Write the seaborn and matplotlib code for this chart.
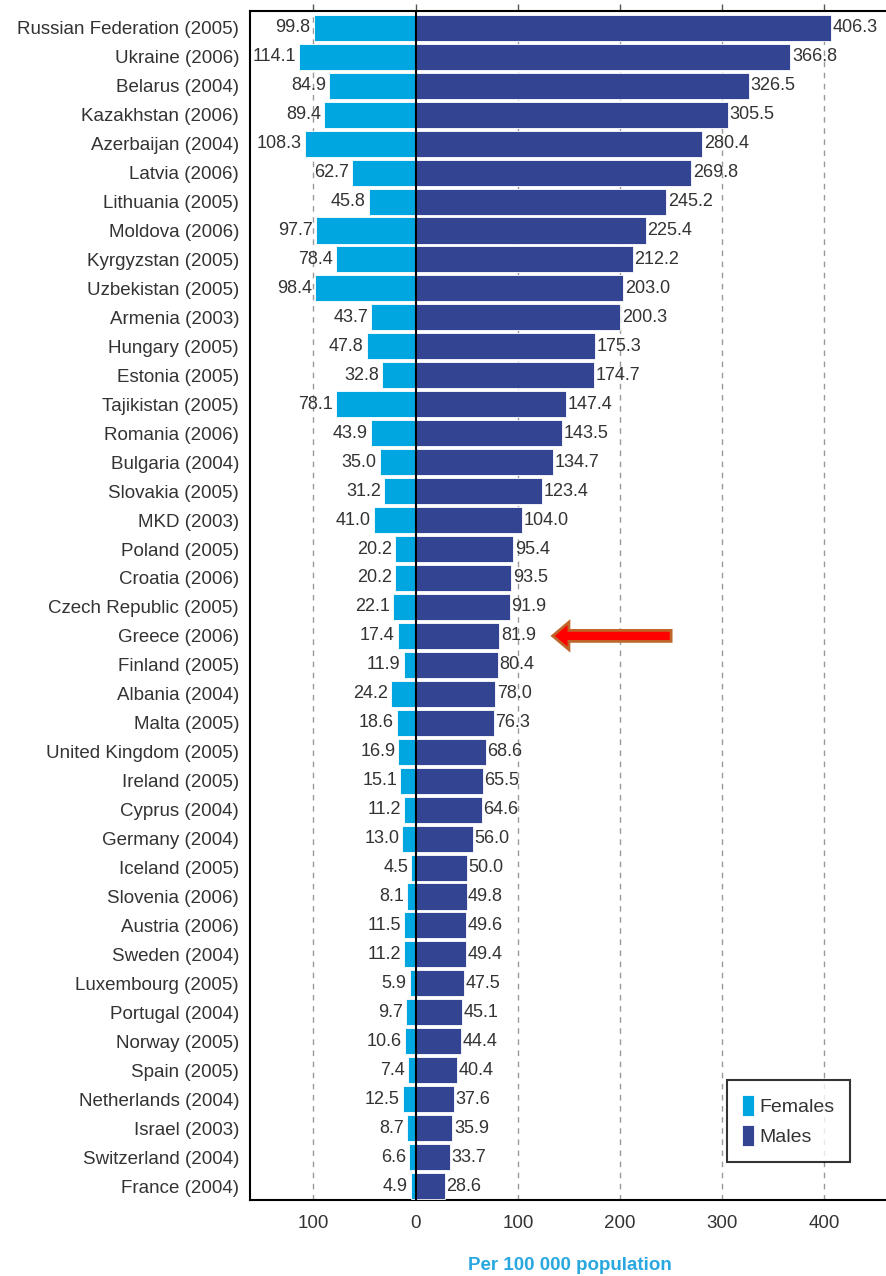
import numpy as np
import pandas as pd
import matplotlib
matplotlib.use('Agg')
import matplotlib.pyplot as plt
import seaborn as sb
from matplotlib.patches import FancyArrow

countries = ['Russian Federation (2005)', 'Ukraine (2006)', 'Belarus (2004)', 'Kazakhstan (2006)',
             'Azerbaijan (2004)', 'Latvia (2006)', 'Lithuania (2005)', 'Moldova (2006)',
             'Kyrgyzstan (2005)', 'Uzbekistan (2005)', 'Armenia (2003)', 'Hungary (2005)',
             'Estonia (2005)', 'Tajikistan (2005)', 'Romania (2006)', 'Bulgaria (2004)',
             'Slovakia (2005)', 'MKD (2003)', 'Poland (2005)', 'Croatia (2006)',
             'Czech Republic (2005)', 'Greece (2006)', 'Finland (2005)', 'Albania (2004)',
             'Malta (2005)', 'United Kingdom (2005)', 'Ireland (2005)', 'Cyprus (2004)',
             'Germany (2004)', 'Iceland (2005)', 'Slovenia (2006)', 'Austria (2006)',
             'Sweden (2004)', 'Luxembourg (2005)', 'Portugal (2004)', 'Norway (2005)',
             'Spain (2005)', 'Netherlands (2004)', 'Israel (2003)', 'Switzerland (2004)',
             'France (2004)']
females = [99.8, 114.1, 84.9, 89.4, 108.3, 62.7, 45.8, 97.7, 78.4, 98.4, 43.7, 47.8, 32.8, 78.1,
           43.9, 35.0, 31.2, 41.0, 20.2, 20.2, 22.1, 17.4, 11.9, 24.2, 18.6, 16.9, 15.1, 11.2,
           13.0, 4.5, 8.1, 11.5, 11.2, 5.9, 9.7, 10.6, 7.4, 12.5, 8.7, 6.6, 4.9]
males = [406.3, 366.8, 326.5, 305.5, 280.4, 269.8, 245.2, 225.4, 212.2, 203.0, 200.3, 175.3,
         174.7, 147.4, 143.5, 134.7, 123.4, 104.0, 95.4, 93.5, 91.9, 81.9, 80.4, 78.0, 76.3,
         68.6, 65.5, 64.6, 56.0, 50.0, 49.8, 49.6, 49.4, 47.5, 45.1, 44.4, 40.4, 37.6, 35.9,
         33.7, 28.6]
highlight = 'Greece (2006)'

c_fem = '#00a6e0'
c_male = '#334592'
c_text = '#333333'

df = pd.DataFrame({'country': countries, 'Females': females, 'Males': males})
df['fem_neg'] = -df['Females']

sb.set_style('white')
plt.rcParams['font.family'] = ['Liberation Sans', 'DejaVu Sans']

fig = plt.figure(figsize=(8.87, 12.76), dpi=100)
ax = fig.add_axes([0.282, 0.0596, 0.72, 0.932])

sb.barplot(data=df, x='fem_neg', y='country', color=c_fem, width=0.9, saturation=1,
           edgecolor='white', linewidth=0.6, label='Females', ax=ax, zorder=3)
sb.barplot(data=df, x='Males', y='country', color=c_male, width=0.9, saturation=1,
           edgecolor='white', linewidth=0.6, label='Males', ax=ax, zorder=3)

for i, (f, m) in enumerate(zip(females, males)):
    ax.text(-f - 3, i, f'{f:.1f}', ha='right', va='center', fontsize=13, color=c_text, zorder=4)
    ax.text(m + 1.5, i, f'{m:.1f}', ha='left', va='center', fontsize=13, color=c_text, zorder=4)

ax.set_xlim(-162, 463)
ax.set_ylim(len(countries) - 0.52, -0.59)
for g in [-100, 100, 200, 300, 400]:
    ax.axvline(g, color='#999999', ls=(0, (4, 4)), lw=1, zorder=1)
ax.axvline(0, color='black', lw=1.5, zorder=5)

ax.set_xticks([-100, 0, 100, 200, 300, 400])
ax.set_xticklabels(['100', '0', '100', '200', '300', '400'], fontsize=13.5, color=c_text)
ax.tick_params(axis='x', direction='out', length=5, width=1, color='#555555', pad=6, top=True)
ax.tick_params(axis='y', length=0, labelsize=13.5, labelcolor=c_text, pad=8)
ax.set_ylabel('')
ax.set_xlabel('Per 100 000 population', fontsize=13.5, color='#29a8e0', fontweight='bold', labelpad=18)

for s in ['left', 'bottom', 'top']:
    ax.spines[s].set_color('black')
    ax.spines[s].set_linewidth(1.5)
ax.spines['right'].set_visible(False)

# arrow pointing to the highlighted country
gi = countries.index(highlight)
arr = FancyArrow(250, gi, -116, 0, width=0.38, head_width=0.95, head_length=16,
                 length_includes_head=True, facecolor='#ff0000', edgecolor='#c0652a',
                 linewidth=2, zorder=6)
ax.add_patch(arr)

leg = ax.legend(loc='lower right', bbox_to_anchor=(0.94, 0.032), fontsize=14, frameon=True,
                fancybox=False, edgecolor='black', handlelength=0.6, handleheight=1.3,
                handletextpad=0.3, borderpad=0.8, labelspacing=0.45, borderaxespad=0)
leg.get_frame().set_linewidth(1.5)
for t in leg.get_texts():
    t.set_color(c_text)
leg._legend_box.sep = 6

fig.savefig('out.png', dpi=100)
